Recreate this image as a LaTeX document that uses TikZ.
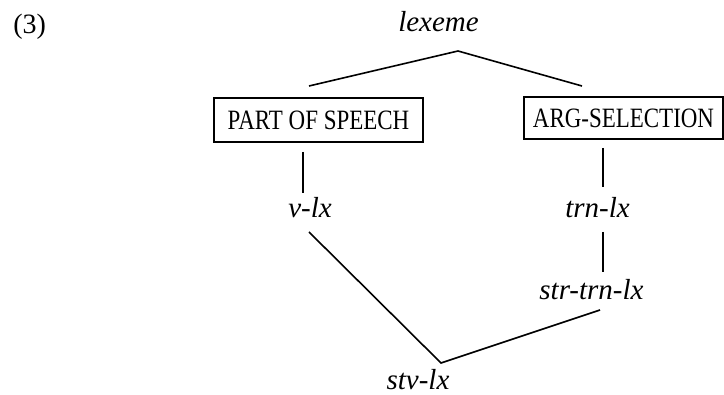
\documentclass[tikz,border=0pt]{standalone}
\usepackage{fontspec}
\setmainfont{Liberation Serif}
\newfontfamily\boxfont{Liberation Serif}[FakeStretch=0.82]
\usetikzlibrary{calc}

\begin{document}
\begin{tikzpicture}[x=0.5pt,y=-0.5pt,
  typename/.style={inner sep=0pt,anchor=base,font=\fontsize{14.5}{16}\selectfont\itshape},
  dimbox/.style={draw,line width=0.8pt,inner sep=0pt,font=\fontsize{14}{16}\boxfont},
  link/.style={line width=0.8pt}]
  \useasboundingbox (0,0) rectangle (724,395); % 参照画像と同じ大きさの枠
  \node[inner sep=0pt,anchor=base west,font=\fontsize{14}{16}\selectfont] (exnum) at (13,34) {(3)}; % 例文番号
  \node[typename] (lexeme) at (438.5,32) {lexeme}; % 最上位の型
  \node[dimbox,minimum width=104.5pt,minimum height=22pt] (pos) at (318.5,120) {PART OF SPEECH}; % 左の次元
  \node[dimbox,minimum width=99.5pt,minimum height=21pt] (argsel) at (623.5,118) {ARG-SELECTION}; % 右の次元
  \node[typename] (vlx) at (310,218) {v-lx};
  \node[typename] (trnlx) at (597.5,218) {trn-lx};
  \node[typename] (strtrnlx) at (591.5,300) {str-trn-lx};
  \node[typename] (stvlx) at (418,390) {stv-lx}; % 両方の次元を継承する型

  \coordinate (lexjoin) at (458,51); % lexeme の下の頂点
  \coordinate (posup) at (309,86);
  \coordinate (argup) at (582,86);
  \coordinate (posdown) at (303,152);
  \coordinate (vlxup) at (303,193);
  \coordinate (argdown) at (603,148);
  \coordinate (trnup) at (603,187);
  \coordinate (trndown) at (603,232);
  \coordinate (strup) at (603,272);
  \coordinate (vlxdown) at (309,232);
  \coordinate (stvjoin) at (441,363); % stv-lx の上の頂点
  \coordinate (strdown) at (600,310);

  \draw[link] (posup) -- (lexjoin) -- (argup); % lexeme から二つの次元へ
  \draw[link] (posdown) -- (vlxup); % PART OF SPEECH から v-lx へ
  \draw[link] (argdown) -- (trnup); % ARG-SELECTION から trn-lx へ
  \draw[link] (trndown) -- (strup); % trn-lx から str-trn-lx へ
  \draw[link] (vlxdown) -- (stvjoin) -- (strdown); % 多重継承の線
\end{tikzpicture}
\end{document}
